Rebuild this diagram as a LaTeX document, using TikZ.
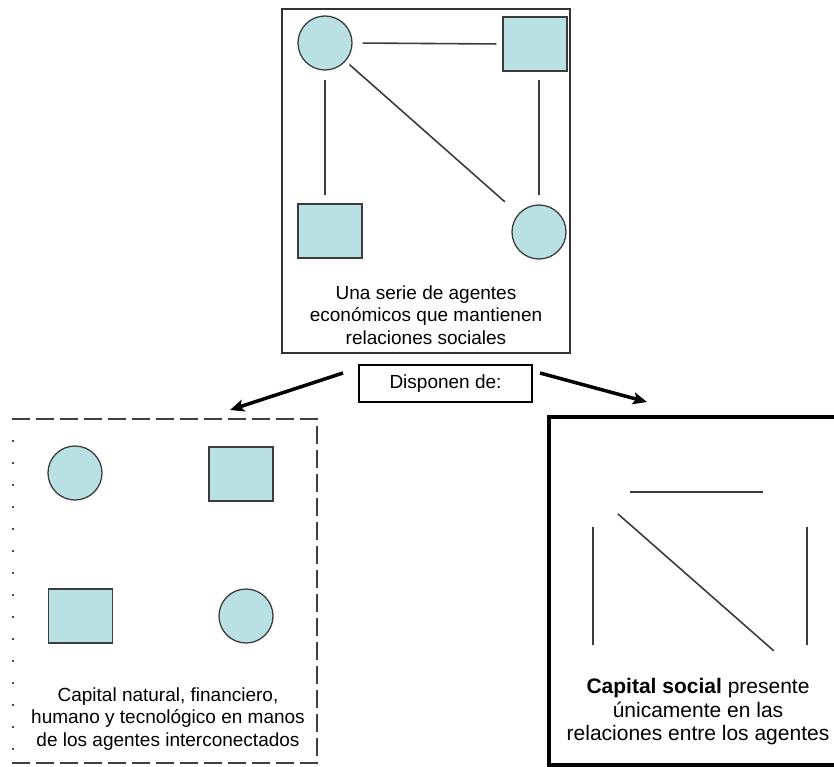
\documentclass[tikz,border=0pt]{standalone}
\usepackage{fontspec}
\setmainfont{Liberation Sans}
\usetikzlibrary{arrows.meta}
\definecolor{agentfill}{RGB}{185,225,227}
\definecolor{agentline}{RGB}{60,60,60}

\begin{document}
\begin{tikzpicture}[x=1pt,y=-1pt,
  agent/.style={draw=agentline,line width=1.3pt,fill=agentfill,inner sep=0pt},
  circ/.style={agent,circle,minimum size=54pt},
  sq/.style={agent,rectangle,minimum width=64pt,minimum height=54pt},
  ghost/.style={circle,minimum size=54pt,inner sep=0pt},
  link/.style={draw=agentline,line width=1.6pt},
  txt/.style={align=center,font=\fontsize{19}{22.5}\selectfont},
  bigarrow/.style={line width=3.5pt,-{Stealth[length=14pt,width=12pt,inset=3pt]}}]
  \useasboundingbox (0,0) rectangle (834,767);

  % top: agents with their relations
  \draw[line width=1.5pt,draw=black!80] (282,9) rectangle (570,353);
  \node[circ] (a1) at (325,43) {};
  \node[sq] (a2) at (535,44) {};
  \node[sq] (a3) at (330,231) {};
  \node[circ] (a4) at (539,232) {};
  \draw[link,shorten <=10pt,shorten >=6pt] (a1.east) -- (a2.west);
  \draw[link,shorten <=9pt,shorten >=8pt] (a1.south) -- (a1.south |- a3.north);
  \draw[link,shorten <=8pt,shorten >=9pt] (a4.north |- a2.south) -- (a4.north);
  \draw[link,shorten <=5pt,shorten >=18pt] (a1) -- (a4);
  \node[txt] (top) at (426,315) {Una serie de agentes\\económicos que mantienen\\relaciones sociales};

  \node[draw,line width=1.3pt,minimum width=173pt,minimum height=37pt,txt] (disp) at (445.5,383.5) {Disponen de:};
  \coordinate (la) at (343,373);
  \coordinate (lb) at (230,410);
  \coordinate (ra) at (540,373);
  \coordinate (rb) at (647,402);
  \draw[bigarrow] (la) -- (lb);
  \draw[bigarrow] (ra) -- (rb);

  % left: the agents alone
  \draw[line width=1.5pt,draw=black!75,dash pattern=on 18pt off 6pt] (12,419) -- (317,419) -- (317,763) -- (12,763);
  \draw[line width=2pt,draw=black!70,dash pattern=on 2pt off 20pt] (13,440) -- (13,757);
  \node[circ] (b1) at (75,473) {};
  \node[sq] (b2) at (241,474) {};
  \node[sq] (b3) at (80.5,616) {};
  \node[circ] (b4) at (246,616) {};
  \node[txt] (left) at (168,719) {Capital natural, financiero,\\humano y tecnológico en manos\\de los agentes interconectados};

  % right: only the relations
  \draw[line width=3.5pt] (549,417) rectangle (845,765);
  \node[ghost] (g1) at (593,492) {};
  \node[ghost] (g2) at (807,492) {};
  \node[ghost] (g3) at (593,680) {};
  \node[ghost] (g4) at (807,680) {};
  \draw[link,shorten <=10pt,shorten >=17pt] (g1) -- (g2);
  \draw[link,shorten <=8pt,shorten >=8pt] (g1) -- (g3);
  \draw[link,shorten <=8pt,shorten >=8pt] (g2) -- (g4);
  \draw[link,shorten <=6pt,shorten >=17pt] (g1) -- (g4);
  \node[align=center,font=\fontsize{21}{23.5}\selectfont] (right) at (698,712) {\textbf{Capital social} presente\\únicamente en las\\relaciones entre los agentes};
\end{tikzpicture}
\end{document}
